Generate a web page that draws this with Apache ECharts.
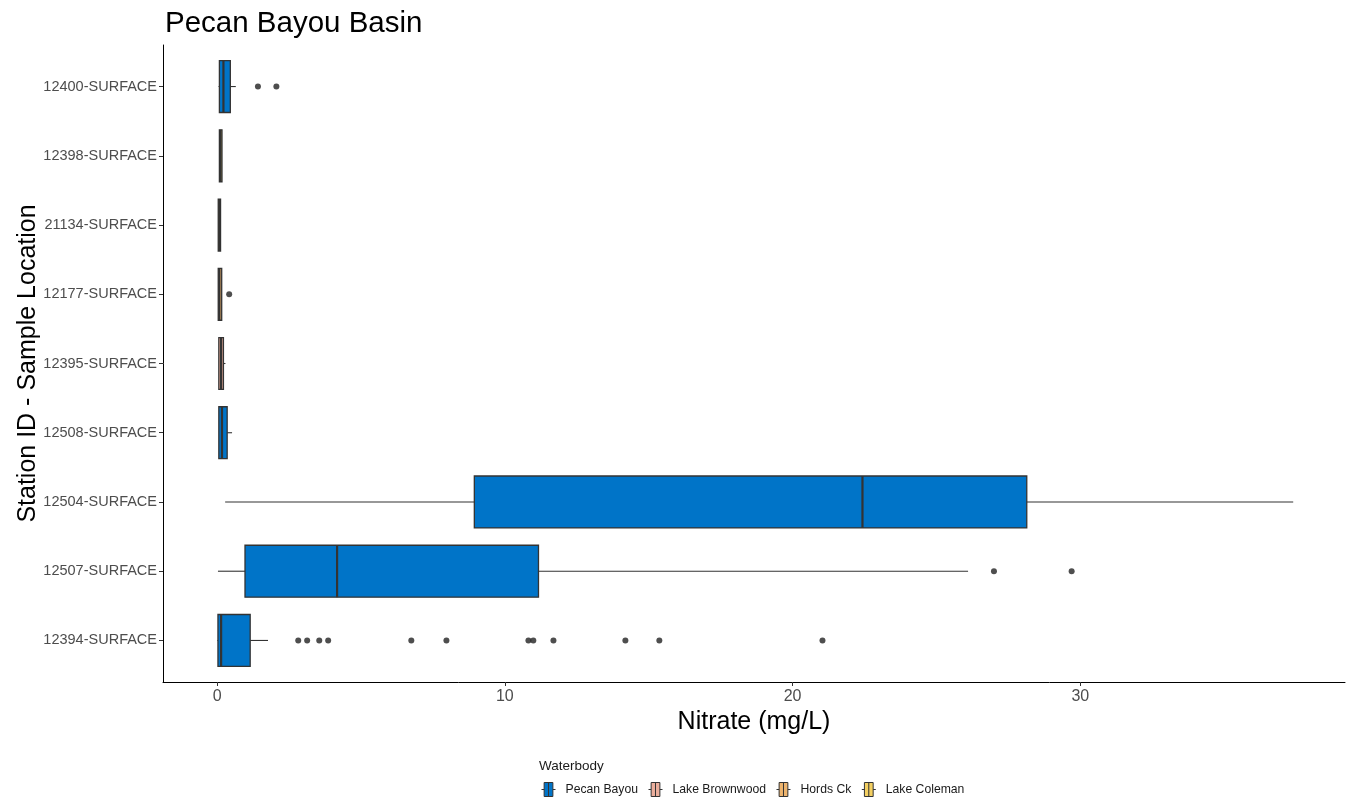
<!DOCTYPE html>
<html>
<head>
<meta charset="utf-8">
<script src="https://cdn.jsdelivr.net/npm/echarts@6/dist/echarts.min.js"></script>
<style>html,body{margin:0;padding:0;background:#fff;}#chart{width:1351px;height:797px;}</style>
</head>
<body>
<div id="chart"></div>
<script>
// Stations, bottom to top
var stations = ['12394-SURFACE','12507-SURFACE','12504-SURFACE','12508-SURFACE','12395-SURFACE','12177-SURFACE','21134-SURFACE','12398-SURFACE','12400-SURFACE'];
var waterbodyOf = ['Pecan Bayou','Pecan Bayou','Pecan Bayou','Pecan Bayou','Lake Brownwood','Hords Ck','Lake Coleman','Lake Coleman','Pecan Bayou'];
var lowWhisker  = [0.01, 0.03, 0.28, 0.06, 0.06, 0.04, 0.04, 0.08, 0.05];
var q1          = [0.03, 0.97, 8.94, 0.06, 0.06, 0.04, 0.04, 0.08, 0.08];
var median      = [0.14, 4.17, 22.43, 0.17, 0.14, 0.08, 0.08, 0.12, 0.22];
var q3          = [1.15, 11.17, 28.14, 0.35, 0.22, 0.16, 0.12, 0.17, 0.46];
var highWhisker = [1.77, 26.1, 37.4, 0.52, 0.29, 0.16, 0.12, 0.17, 0.65];
var outliers = [
  [2.82, 3.13, 3.55, 3.86, 6.75, 7.97, 10.82, 10.99, 11.69, 14.19, 15.37, 21.04],
  [27.0, 29.7],
  [],
  [],
  [],
  [0.42],
  [],
  [],
  [1.42, 2.06]
];
var waterbodies = ['Pecan Bayou','Lake Brownwood','Hords Ck','Lake Coleman'];
var waterbodyColors = ['#0074C8','#EBAE9C','#EDB46E','#F4D062'];
var xTicks = [0, 10, 20, 30];

var chart = echarts.init(document.getElementById('chart'));
var FONT = '"Liberation Sans", Arial, sans-serif';

function renderBox(params, api) {
  var y = api.value(0);
  var lo = api.coord([api.value(1), y]);
  var a = api.coord([api.value(2), y]);
  var m = api.coord([api.value(3), y]);
  var b = api.coord([api.value(4), y]);
  var hi = api.coord([api.value(5), y]);
  var h = api.size([0, 1])[1] * 0.75;
  var cy = a[1];
  var col = api.visual('color');
  return {
    type: 'group',
    children: [
      {type: 'line', shape: {x1: lo[0], y1: cy, x2: a[0], y2: cy}, style: {stroke: '#333333', lineWidth: 1.1}},
      {type: 'line', shape: {x1: b[0], y1: cy, x2: hi[0], y2: cy}, style: {stroke: '#333333', lineWidth: 1.1}},
      {type: 'rect', shape: {x: a[0], y: cy - h / 2, width: Math.max(b[0] - a[0], 0.5), height: h}, style: {fill: col, stroke: '#333333', lineWidth: 1.3}},
      {type: 'line', shape: {x1: m[0], y1: cy - h / 2, x2: m[0], y2: cy + h / 2}, style: {stroke: '#333333', lineWidth: 2.2}}
    ]
  };
}

var series = waterbodies.map(function (wb, k) {
  var data = [];
  for (var i = 0; i < stations.length; i++) {
    if (waterbodyOf[i] === wb) data.push([i, lowWhisker[i], q1[i], median[i], q3[i], highWhisker[i]]);
  }
  return {
    name: wb,
    type: 'custom',
    renderItem: renderBox,
    itemStyle: {color: waterbodyColors[k]},
    encode: {y: 0, x: [1, 2, 3, 4, 5]},
    data: data,
    z: 2
  };
});

var outlierData = [];
outliers.forEach(function (arr, i) { arr.forEach(function (v) { outlierData.push([v, i]); }); });
series.push({
  name: 'outliers',
  type: 'scatter',
  data: outlierData,
  symbolSize: 6,
  itemStyle: {color: '#222222'},
  silent: true,
  z: 3
});

var boxIcon = 'path://M3,0H13V16H3ZM8,0V16M0,8H3M13,8H16';

chart.setOption({
  animation: false,
  backgroundColor: '#ffffff',
  title: [
    {text: 'Pecan Bayou Basin', left: 160, top: 4, textStyle: {fontFamily: FONT, fontSize: 29.5, fontWeight: 'normal', color: '#000000'}},
    {text: 'Waterbody', left: 534, top: 754, textStyle: {fontFamily: FONT, fontSize: 13.5, fontWeight: 'normal', color: '#1a1a1a'}}
  ],
  legend: {
    left: 536,
    top: 777,
    itemWidth: 14,
    itemHeight: 16,
    itemGap: 10,
    textStyle: {fontFamily: FONT, fontSize: 12.2, color: '#1a1a1a', padding: [0, 0, 0, 5]},
    data: waterbodies.map(function (wb, k) {
      return {name: wb, icon: boxIcon, itemStyle: {color: waterbodyColors[k], borderColor: '#333333', borderWidth: 1}};
    })
  },
  grid: {left: 163, right: 6, top: 45, bottom: 115},
  xAxis: {
    type: 'value',
    min: -1.88,
    max: 39.2,
    name: 'Nitrate (mg/L)',
    nameLocation: 'middle',
    nameGap: 28,
    nameMoveOverlap: false,
    nameTextStyle: {fontFamily: FONT, fontSize: 25, color: '#000000'},
    axisLine: {show: true, onZero: false, lineStyle: {color: '#000000', width: 1}},
    axisTick: {show: true, length: 4, customValues: xTicks, lineStyle: {color: '#333333'}},
    axisLabel: {customValues: xTicks, fontFamily: FONT, fontSize: 16, color: '#4d4d4d', margin: 7},
    splitLine: {show: false}
  },
  yAxis: {
    type: 'value',
    min: -0.6,
    max: 8.6,
    name: 'Station ID - Sample Location',
    nameLocation: 'middle',
    nameGap: 122,
    nameMoveOverlap: false,
    nameTextStyle: {fontFamily: FONT, fontSize: 25, color: '#000000'},
    axisLine: {show: true, onZero: false, lineStyle: {color: '#000000', width: 1}},
    axisTick: {show: true, length: 4, customValues: stations.map(function (s, i) { return i; }), lineStyle: {color: '#333333'}},
    axisLabel: {
      customValues: stations.map(function (s, i) { return i; }),
      formatter: function (v) { return stations[Math.round(v)] || ''; },
      fontFamily: FONT, fontSize: 14.5, color: '#4d4d4d', margin: 6
    },
    splitLine: {show: false}
  },
  series: series
});
</script>
</body>
</html>
